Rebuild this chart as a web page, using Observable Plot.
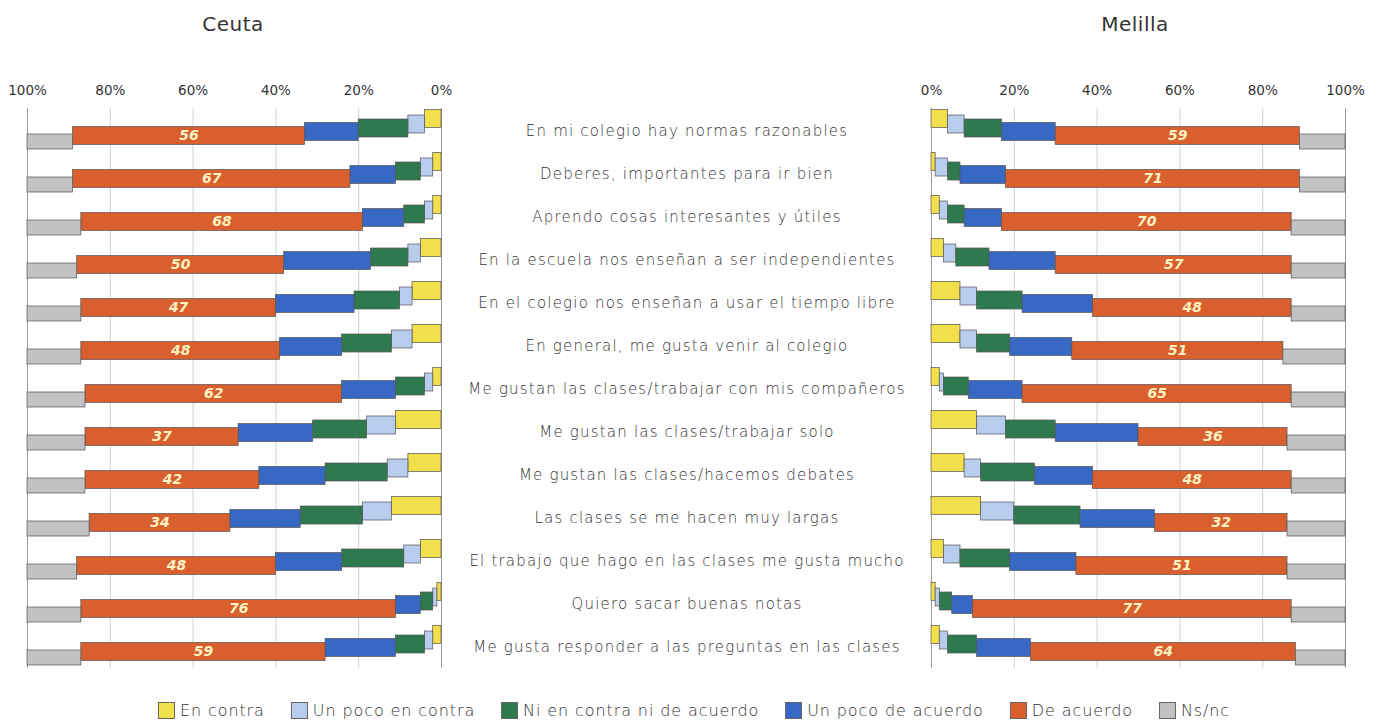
<!DOCTYPE html>
<html>
<head>
<meta charset="utf-8">
<script src="https://cdn.jsdelivr.net/npm/d3@7"></script>
<script src="https://cdn.jsdelivr.net/npm/@observablehq/plot@0.6"></script>
<style>
  body { margin: 0; background: #fff; width: 1380px; height: 721px; position: relative; overflow: hidden;
         font-family: "DejaVu Sans", sans-serif; color: #333; }
  .title { position: absolute; top: 12px; width: 200px; text-align: center; font-size: 20px; color: #333; letter-spacing: 0.5px; }
  .panel { position: absolute; top: 60px; }
  #center text { letter-spacing: 1.2px; font-weight: 300; }
  #legend { position: absolute; top: 701px; left: 4px; width: 1380px; display: flex; justify-content: center;
            align-items: center; font-size: 16px; letter-spacing: 0.9px; color: #333; font-weight: 300; }
  .item { display: flex; align-items: center; margin: 0 13px; }
  .sw { width: 17px; height: 17px; border: 1px solid #666; margin-right: 5px; box-sizing: border-box; }
</style>
</head>
<body>
<div class="title" style="left:133px">Ceuta</div>
<div class="title" style="left:1035px">Melilla</div>
<div id="left" class="panel" style="left:0px"></div>
<div id="center" class="panel" style="left:442px"></div>
<div id="right" class="panel" style="left:900px"></div>
<div id="legend"></div>
<script>
const categories = [
  "En mi colegio hay normas razonables",
  "Deberes, importantes para ir bien",
  "Aprendo cosas interesantes y útiles",
  "En la escuela nos enseñan a ser independientes",
  "En el colegio nos enseñan a usar el tiempo libre",
  "En general, me gusta venir al colegio",
  "Me gustan las clases/trabajar con mis compañeros",
  "Me gustan las clases/trabajar solo",
  "Me gustan las clases/hacemos debates",
  "Las clases se me hacen muy largas",
  "El trabajo que hago en las clases me gusta mucho",
  "Quiero sacar buenas notas",
  "Me gusta responder a las preguntas en las clases"
];
const seriesNames = ["En contra", "Un poco en contra", "Ni en contra ni de acuerdo", "Un poco de acuerdo", "De acuerdo", "Ns/nc"];
const seriesColors = ["#f3df4b", "#b8ccee", "#2e7a4e", "#3668c4", "#d95f2f", "#c2c2c2"];
const tickValues = [0, 20, 40, 60, 80, 100];

// Ceuta (%)
const ceutaEnContra      = [4, 2, 2, 5, 7, 7, 2, 11, 8, 12, 5, 1, 2];
const ceutaPocoContra    = [4, 3, 2, 3, 3, 5, 2, 7, 5, 7, 4, 1, 2];
const ceutaNi            = [12, 6, 5, 9, 11, 12, 7, 13, 15, 15, 15, 3, 7];
const ceutaPocoAcuerdo   = [13, 11, 10, 21, 19, 15, 13, 18, 16, 17, 16, 6, 17];
const ceutaAcuerdo       = [56, 67, 68, 50, 47, 48, 62, 37, 42, 34, 48, 76, 59];
const ceutaNsnc          = [11, 11, 13, 12, 13, 13, 14, 14, 14, 15, 12, 13, 13];

// Melilla (%)
const melillaEnContra    = [4, 1, 2, 3, 7, 7, 2, 11, 8, 12, 3, 1, 2];
const melillaPocoContra  = [4, 3, 2, 3, 4, 4, 1, 7, 4, 8, 4, 1, 2];
const melillaNi          = [9, 3, 4, 8, 11, 8, 6, 12, 13, 16, 12, 3, 7];
const melillaPocoAcuerdo = [13, 11, 9, 16, 17, 15, 13, 20, 14, 18, 16, 5, 13];
const melillaAcuerdo     = [59, 71, 70, 57, 48, 51, 65, 36, 48, 32, 51, 77, 64];
const melillaNsnc        = [11, 11, 13, 13, 13, 15, 13, 14, 13, 14, 14, 13, 12];

function stackRows(cols) {
  const rows = [];
  categories.forEach((c, i) => {
    let acc = 0;
    cols.forEach((arr, s) => {
      const v = arr[i];
      rows.push({category: c, series: seriesNames[s], s, value: v, x1: acc, x2: acc + v});
      acc += v;
    });
  });
  return rows;
}

const segDy = [-12, -6.5, -2.5, 1, 5, 11];
const segInset = [12.5, 12.5, 12.5, 12.5, 12.5, 14];

function panel(cols, reverse, marginLeft, marginRight, width) {
  const rows = stackRows(cols);
  const barMarks = seriesNames.map((name, s) =>
    Plot.barX(rows.filter(d => d.s === s), {
      x1: "x1", x2: "x2", y: "category",
      fill: seriesColors[s], stroke: "#555", strokeWidth: 0.7,
      insetTop: segInset[s], insetBottom: segInset[s], dy: segDy[s]
    })
  );
  return Plot.plot({
    width, height: 620,
    marginTop: 48, marginBottom: 12, marginLeft, marginRight,
    style: {fontFamily: "DejaVu Sans, sans-serif", fontSize: "13.5px", color: "#333", background: "transparent"},
    x: {domain: [0, 100], reverse},
    y: {type: "band", domain: categories, padding: 0, axis: null},
    marks: [
      Plot.ruleX([20, 40, 60, 80], {stroke: "#cfcfcf", strokeWidth: 1}),
      Plot.ruleX([0, 100], {stroke: "#999", strokeWidth: 1}),
      Plot.axisX({anchor: "top", ticks: tickValues, tickFormat: d => d + "%", tickSize: 0, tickPadding: 14, fill: "#333"}),
      ...barMarks,
      Plot.text(rows.filter(d => d.s === 4), {
        x: d => (d.x1 + d.x2) / 2, y: "category", text: d => String(d.value),
        dy: segDy[4], fill: "#fff3c2", fontSize: 14, fontWeight: "bold", fontStyle: "italic"
      })
    ]
  });
}

document.getElementById("left").append(
  panel([ceutaEnContra, ceutaPocoContra, ceutaNi, ceutaPocoAcuerdo, ceutaAcuerdo, ceutaNsnc], true, 27, 19, 460)
);
document.getElementById("right").append(
  panel([melillaEnContra, melillaPocoContra, melillaNi, melillaPocoAcuerdo, melillaAcuerdo, melillaNsnc], false, 31, 35, 480)
);

document.getElementById("center").append(
  Plot.plot({
    width: 489, height: 620,
    marginTop: 45, marginBottom: 9, marginLeft: 0, marginRight: 0,
    style: {fontFamily: "DejaVu Sans, sans-serif", color: "#333", background: "transparent"},
    y: {type: "band", domain: categories, padding: 0, axis: null},
    marks: [
      Plot.text(categories, {y: d => d, text: d => d, frameAnchor: "middle", fontSize: 15, fill: "#333"})
    ]
  })
);

const legend = document.getElementById("legend");
seriesNames.forEach((name, s) => {
  const item = document.createElement("div");
  item.className = "item";
  const sw = document.createElement("div");
  sw.className = "sw";
  sw.style.background = seriesColors[s];
  const label = document.createElement("span");
  label.textContent = name;
  item.append(sw, label);
  legend.append(item);
});
</script>
</body>
</html>
